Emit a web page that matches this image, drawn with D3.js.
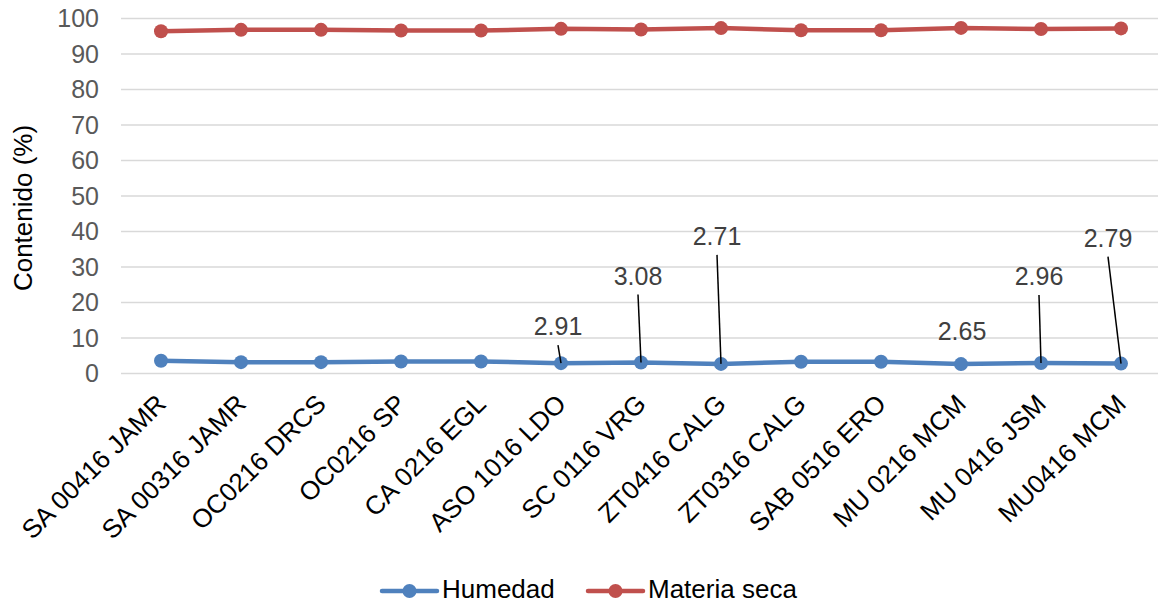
<!DOCTYPE html>
<html>
<head>
<meta charset="utf-8">
<script src="https://cdn.jsdelivr.net/npm/d3@7"></script>
<style>
  body { margin: 0; background: #fff; }
  svg { font-family: "Liberation Sans", Arial, sans-serif; }
</style>
</head>
<body>
<svg id="chart" width="1158" height="605"></svg>
<script>
var categories = ["SA 00416 JAMR", "SA 00316 JAMR", "OC0216 DRCS", "OC0216 SP", "CA 0216 EGL",
    "ASO 1016 LDO", "SC 0116 VRG", "ZT0416 CALG", "ZT0316 CALG", "SAB 0516 ERO",
    "MU 0216 MCM", "MU 0416 JSM", "MU0416 MCM"]
var humedad = [3.6, 3.2, 3.2, 3.4, 3.4, 2.91, 3.08, 2.71, 3.3, 3.3, 2.65, 2.96, 2.79]
var materiaSeca = [96.4, 96.8, 96.8, 96.6, 96.6, 97.09, 96.92, 97.29, 96.7, 96.7, 97.35, 97.04, 97.21]
var yTicks = [0, 10, 20, 30, 40, 50, 60, 70, 80, 90, 100]
var seriesNames = ["Humedad", "Materia seca"]
// which humedad points carry a label (index), moved by hand like in the original
var labelIdx = [5, 6, 7, 10, 11, 12]
var labelShift = [[-3, -28], [-3, -78], [-4, -119], [1, -24], [-2, -78], [-13, -117]]
var labelLeader = [true, true, true, false, true, true]

var colors = ["#4f81bd", "#c0504d"]
var plotL = 121, plotR = 1161, plotT = 18.5, plotB = 373.5

var svg = d3.select("#chart")
var x = d3.scalePoint().domain(categories).range([plotL, plotR]).padding(0.5)
var y = d3.scaleLinear().domain([0, 100]).range([plotB, plotT])

// grid
svg.append("g").selectAll("line")
    .data(yTicks)
    .enter()
    .append("line")
    .attr("x1", plotL)
    .attr("x2", plotR)
    .attr("y1", function(d){ return y(d) })
    .attr("y2", function(d){ return y(d) })
    .attr("stroke", "#d9d9d9")
    .attr("stroke-width", 1.5)

// y axis labels
var yAxis = d3.axisLeft(y).tickValues(yTicks).tickSize(0).tickPadding(0)
var gy = svg.append("g").attr("transform", "translate(99,0)").call(yAxis)
gy.select(".domain").remove()
gy.selectAll("text")
    .attr("font-size", 25)
    .attr("fill", "#595959")
    .attr("font-family", "Liberation Sans, Arial, sans-serif")

svg.append("text")
    .attr("transform", "translate(32,208) rotate(-90)")
    .attr("text-anchor", "middle")
    .attr("font-size", 26)
    .attr("fill", "#000")
    .text("Contenido (%)")

// x axis labels
var xAxis = d3.axisBottom(x).tickSize(0).tickPadding(0)
var gx = svg.append("g").attr("transform", "translate(0," + plotB + ")").call(xAxis)
gx.select(".domain").remove()
gx.selectAll("text")
    .attr("font-size", 26)
    .attr("fill", "#000")
    .attr("font-family", "Liberation Sans, Arial, sans-serif")
    .attr("text-anchor", "end")
    .attr("dy", null)
    .attr("y", 0)
    .attr("transform", "translate(6,32) rotate(-45)")

// series
var data = [humedad, materiaSeca]
var line = d3.line()
    .x(function(d, i){ return x(categories[i]) })
    .y(function(d){ return y(d) })

data.forEach(function(s, k){
    svg.append("path")
        .attr("d", line(s))
        .attr("fill", "none")
        .attr("stroke", colors[k])
        .attr("stroke-width", 4.5)
        .attr("stroke-linejoin", "round")
    svg.append("g").selectAll("circle")
        .data(s)
        .enter()
        .append("circle")
        .attr("cx", function(d, i){ return x(categories[i]) })
        .attr("cy", function(d){ return y(d) })
        .attr("r", 7)
        .attr("fill", colors[k])
})

// data labels with leader lines
labelIdx.forEach(function(idx, j){
    var px = x(categories[idx]), py = y(humedad[idx])
    var tx = px + labelShift[j][0], ty = py + labelShift[j][1]
    if(labelLeader[j]){
        svg.append("line")
            .attr("x1", tx).attr("y1", ty + 10)
            .attr("x2", px).attr("y2", py)
            .attr("stroke", "#000")
            .attr("stroke-width", 1.5)
    }
    svg.append("text")
        .attr("x", tx)
        .attr("y", ty)
        .attr("text-anchor", "middle")
        .attr("font-size", 25)
        .attr("fill", "#404040")
        .text(humedad[idx].toFixed(2))
})

// legend
var legX = [382, 588]
seriesNames.forEach(function(n, k){
    var g = svg.append("g").attr("transform", "translate(" + legX[k] + ",591)")
    g.append("line").attr("x1", 0).attr("x2", 55).attr("y1", 0).attr("y2", 0)
        .attr("stroke", colors[k]).attr("stroke-width", 4.5).attr("stroke-linecap", "round")
    g.append("circle").attr("cx", 27.5).attr("cy", 0).attr("r", 7).attr("fill", colors[k])
    g.append("text").attr("x", 60).attr("y", 7).attr("font-size", 26).attr("fill", "#000").text(n)
})
</script>
</body>
</html>
